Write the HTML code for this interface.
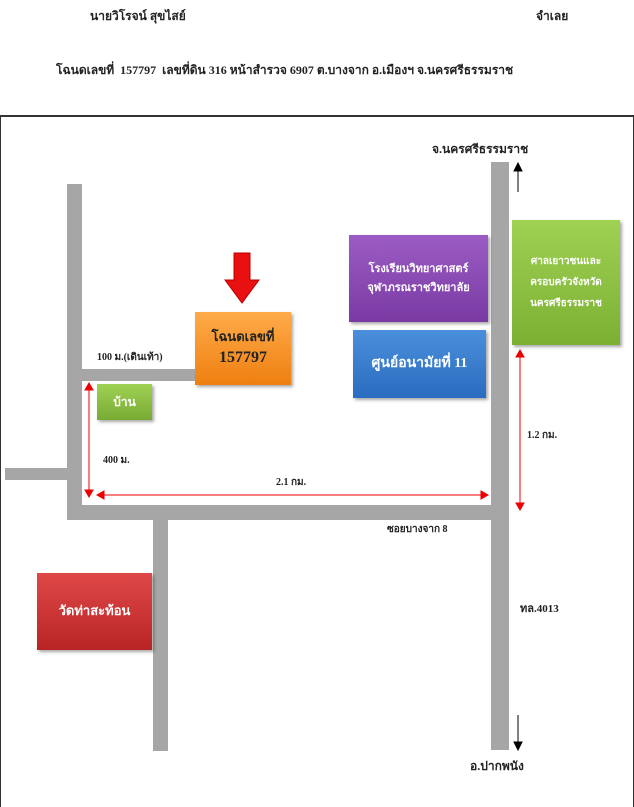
<!DOCTYPE html>
<html><head><meta charset="utf-8"><style>
body{margin:0;width:634px;height:800px;background:#fff;position:relative;overflow:hidden;font-family:"Liberation Serif","Noto Serif CJK SC","Noto Sans CJK SC",serif;font-weight:bold;color:#222}
div{position:absolute}
.r{background:#a6a6a6}
.t{font-size:11px;white-space:nowrap}
.b{display:flex;flex-direction:column;align-items:center;justify-content:center;text-align:center;color:#fff;box-shadow:2px 2px 3px rgba(0,0,0,.35);line-height:1.7}
.b span{position:static;display:block;white-space:nowrap}
</style></head><body>
<div class="t" style="left:90px;top:7px;font-size:12px">นายวิโรจน์ สุขไสย์</div>
<div class="t" style="left:536px;top:7px;font-size:12px">จำเลย</div>
<div class="t" style="left:56px;top:61px;font-size:12px">โฉนดเลขที่&nbsp; 157797&nbsp; เลขที่ดิน 316 หน้าสำรวจ 6907 ต.บางจาก อ.เมืองฯ จ.นครศรีธรรมราช</div>
<div style="left:0;top:115px;width:632px;height:690px;border-top:2px solid #333;border-left:1px solid #333;border-right:1px solid #333"></div>

<div class="r" style="left:67px;top:184px;width:15px;height:336px"></div>
<div class="r" style="left:5px;top:468px;width:62px;height:12px"></div>
<div class="r" style="left:82px;top:369px;width:115px;height:12px"></div>
<div class="r" style="left:67px;top:505px;width:442px;height:15px"></div>
<div class="r" style="left:153px;top:520px;width:15px;height:231px"></div>
<div class="r" style="left:491px;top:162px;width:18px;height:588px"></div>

<svg style="position:absolute;left:0;top:0" width="634" height="800">
<g stroke="#000" fill="#000"><line x1="518" y1="192" x2="518" y2="170" stroke-width="1"/><polygon points="514,171 522,171 518,163"/>
<line x1="518" y1="715" x2="518" y2="743"/><polygon points="514,742 522,742 518,750"/></g>
<g stroke="#e00" fill="#e00" stroke-width="1">
<line x1="89" y1="388" x2="89" y2="492"/><polygon points="85,390 93,390 89,383"/><polygon points="85,490 93,490 89,497"/>
<line x1="100" y1="495" x2="484" y2="495"/><polygon points="104,491 104,499 97,495"/><polygon points="481,491 481,499 488,495"/>
<line x1="520" y1="355" x2="520" y2="505"/><polygon points="516,357 524,357 520,350"/><polygon points="516,503 524,503 520,510"/>
</g>
<polygon points="234,253 250,253 250,280 259,280 242,303 225,280 234,280" fill="#e81010" stroke="#b00" stroke-width="1"/>
</svg>

<div class="b" style="left:349px;top:235px;width:139px;height:87px;background:linear-gradient(#9b5cc4,#7a3aa3);font-size:11px"><span>โรงเรียนวิทยาศาสตร์</span><span>จุฬาภรณราชวิทยาลัย</span></div>
<div class="b" style="left:353px;top:330px;width:133px;height:68px;background:linear-gradient(#4a8fdc,#2a6cbf);font-size:14px"><span>ศูนย์อนามัยที่ 11</span></div>
<div class="b" style="left:512px;top:220px;width:108px;height:125px;background:linear-gradient(#9fd153,#7bb033);font-size:10px;line-height:2.1"><span>ศาลเยาวชนและ</span><span>ครอบครัวจังหวัด</span><span>นครศรีธรรมราช</span></div>
<div class="b" style="left:195px;top:312px;width:96px;height:73px;background:linear-gradient(#ffab4a,#ee7f10);color:#222;font-size:13px;line-height:1.5"><span>โฉนดเลขที่</span><span style="font-size:16px">157797</span></div>
<div class="b" style="left:97px;top:384px;width:55px;height:36px;background:linear-gradient(#9fd153,#78ab33);font-size:12px"><span>บ้าน</span></div>
<div class="b" style="left:37px;top:573px;width:115px;height:77px;background:linear-gradient(#e04848,#b82424);font-size:13px"><span>วัดท่าสะท้อน</span></div>

<div class="t" style="left:432px;top:140px;font-size:12px">จ.นครศรีธรรมราช</div>
<div class="t" style="left:470px;top:757px;font-size:12px">อ.ปากพนัง</div>
<div class="t" style="left:520px;top:599px">ทล.4013</div>
<div class="t" style="left:387px;top:522px;font-size:10px">ซอยบางจาก 8</div>
<div class="t" style="left:527px;top:428px;font-size:10px">1.2 กม.</div>
<div class="t" style="left:103px;top:453px;font-size:10px">400 ม.</div>
<div class="t" style="left:276px;top:475px;font-size:10px">2.1 กม.</div>
<div class="t" style="left:97px;top:350px;font-size:10px">100 ม.(เดินเท้า)</div>
</body></html>
